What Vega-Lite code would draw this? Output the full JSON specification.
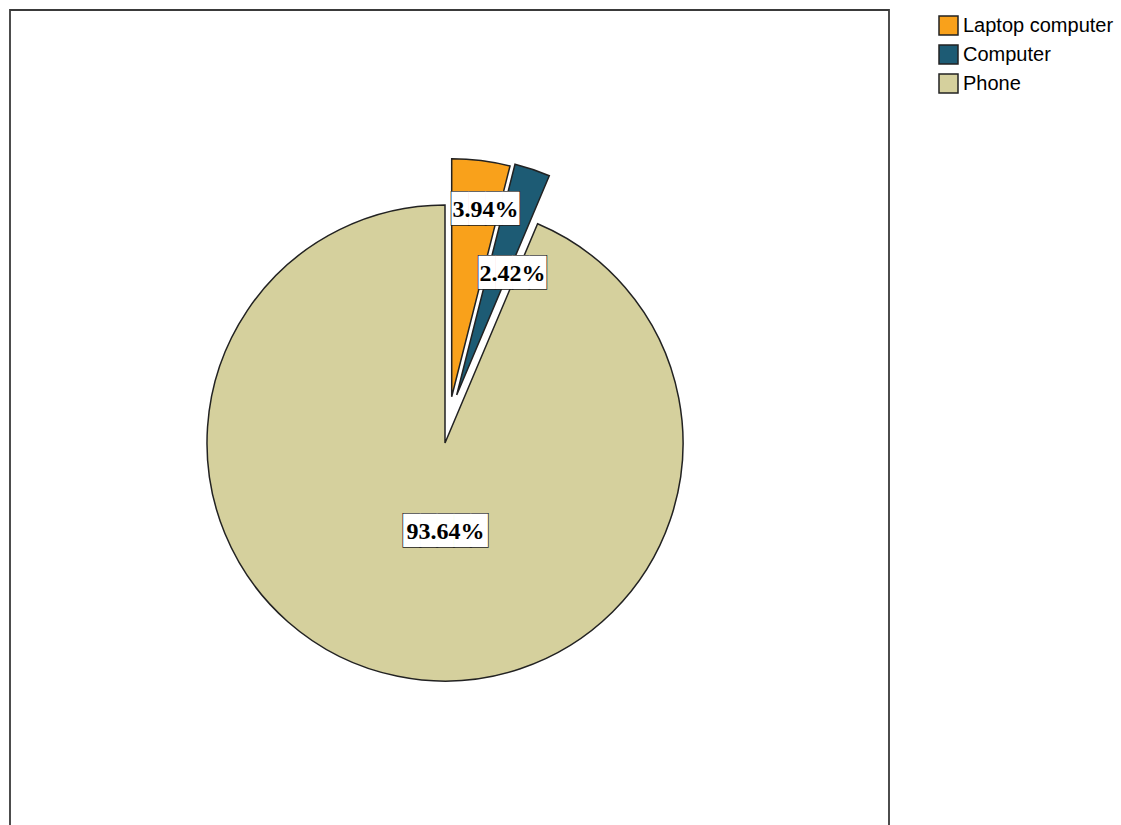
{
  "$schema": "https://vega.github.io/schema/vega-lite/v6.json",
  "width": 879,
  "height": 866,
  "autosize": {"type": "none"},
  "padding": {"left": 10, "top": 10, "right": 232, "bottom": -51},
  "background": "white",
  "config": {"view": {"stroke": null}},
  "data": {"values": [
    {"category": "Laptop computer", "value": 3.94, "label": "3.94%", "rank": 1},
    {"category": "Computer", "value": 2.42, "label": "2.42%", "rank": 2},
    {"category": "Phone", "value": 93.64, "label": "93.64%", "rank": 3}
  ]},
  "layer": [
    {
      "data": {"values": [{"frame": 1}]},
      "mark": {"type": "rect", "filled": false, "stroke": "#3a3a3a", "strokeWidth": 1.8},
      "encoding": {}
    },
    {
      "encoding": {
        "theta": {"field": "value", "type": "quantitative", "stack": true},
        "order": {"field": "rank", "type": "quantitative"}
      },
      "layer": [
        {
          "mark": {"type": "arc", "outerRadius": 238, "xOffset": -4.5, "yOffset": 0, "stroke": "#222", "strokeWidth": 1.5},
          "encoding": {
            "color": {"field": "category", "type": "nominal", "sort": ["Laptop computer", "Computer", "Phone"],
              "scale": {"domain": ["Laptop computer", "Computer", "Phone"], "range": ["#f9a11b", "#1d5b74", "#d5d09d"]},
              "legend": {"title": null, "orient": "right", "offset": 44, "padding": 5, "symbolType": "square", "symbolSize": 361, "symbolStrokeColor": "#222", "symbolStrokeWidth": 1.5, "symbolOpacity": 1, "labelFont": "Liberation Sans", "labelFontSize": 20, "labelColor": "black", "rowPadding": 4, "labelOffset": 4, "labelLimit": 300}},
            "opacity": {"condition": {"test": "datum.category === 'Phone'", "value": 1}, "value": 0}
          }
        },
        {
          "mark": {"type": "arc", "outerRadius": 238, "xOffset": 2.2, "yOffset": -46.3, "stroke": "#222", "strokeWidth": 1.5},
          "encoding": {
            "color": {"field": "category", "type": "nominal", "sort": ["Laptop computer", "Computer", "Phone"],
              "scale": {"domain": ["Laptop computer", "Computer", "Phone"], "range": ["#f9a11b", "#1d5b74", "#d5d09d"]},
              "legend": {"title": null, "orient": "right", "offset": 44, "padding": 5, "symbolType": "square", "symbolSize": 361, "symbolStrokeColor": "#222", "symbolStrokeWidth": 1.5, "symbolOpacity": 1, "labelFont": "Liberation Sans", "labelFontSize": 20, "labelColor": "black", "rowPadding": 4, "labelOffset": 4, "labelLimit": 300}},
            "opacity": {"condition": {"test": "datum.category === 'Laptop computer'", "value": 1}, "value": 0}
          }
        },
        {
          "mark": {"type": "arc", "outerRadius": 238, "xOffset": 7.2, "yOffset": -48, "stroke": "#222", "strokeWidth": 1.5},
          "encoding": {
            "color": {"field": "category", "type": "nominal", "sort": ["Laptop computer", "Computer", "Phone"],
              "scale": {"domain": ["Laptop computer", "Computer", "Phone"], "range": ["#f9a11b", "#1d5b74", "#d5d09d"]},
              "legend": {"title": null, "orient": "right", "offset": 44, "padding": 5, "symbolType": "square", "symbolSize": 361, "symbolStrokeColor": "#222", "symbolStrokeWidth": 1.5, "symbolOpacity": 1, "labelFont": "Liberation Sans", "labelFontSize": 20, "labelColor": "black", "rowPadding": 4, "labelOffset": 4, "labelLimit": 300}},
            "opacity": {"condition": {"test": "datum.category === 'Computer'", "value": 1}, "value": 0}
          }
        },
        {
          "mark": {"type": "text", "font": "DejaVu Sans Mono", "fontSize": 28, "radius": 235, "dx": 7, "align": "center", "baseline": "middle", "fill": "white", "stroke": "#222", "strokeWidth": 1.5},
          "encoding": {"text": {"condition": {"test": "datum.category === 'Laptop computer'", "value": "████"}, "value": ""}}
        },
        {
          "mark": {"type": "text", "font": "DejaVu Sans Mono", "fontSize": 28, "radius": 235, "dx": 7, "align": "center", "baseline": "middle", "fill": "white"},
          "encoding": {"text": {"condition": {"test": "datum.category === 'Laptop computer'", "value": "████"}, "value": ""}}
        },
        {
          "mark": {"type": "text", "font": "Liberation Serif", "fontWeight": "bold", "fontSize": 24, "radius": 235, "dx": 7, "align": "center", "baseline": "middle", "fill": "black"},
          "encoding": {"text": {"condition": {"test": "datum.category === 'Laptop computer'", "field": "label"}, "value": ""}}
        },
        {
          "mark": {"type": "text", "font": "DejaVu Sans Mono", "fontSize": 28, "radius": 178, "dx": 6.4, "align": "center", "baseline": "middle", "fill": "white", "stroke": "#222", "strokeWidth": 1.5},
          "encoding": {"text": {"condition": {"test": "datum.category === 'Computer'", "value": "████"}, "value": ""}}
        },
        {
          "mark": {"type": "text", "font": "DejaVu Sans Mono", "fontSize": 28, "radius": 178, "dx": 6.4, "align": "center", "baseline": "middle", "fill": "white"},
          "encoding": {"text": {"condition": {"test": "datum.category === 'Computer'", "value": "████"}, "value": ""}}
        },
        {
          "mark": {"type": "text", "font": "Liberation Serif", "fontWeight": "bold", "fontSize": 24, "radius": 178, "dx": 6.4, "align": "center", "baseline": "middle", "fill": "black"},
          "encoding": {"text": {"condition": {"test": "datum.category === 'Computer'", "field": "label"}, "value": ""}}
        },
        {
          "mark": {"type": "text", "font": "DejaVu Sans Mono", "fontSize": 28, "radius": 90.5, "dx": 14, "align": "center", "baseline": "middle", "fill": "white", "stroke": "#222", "strokeWidth": 1.5},
          "encoding": {"text": {"condition": {"test": "datum.category === 'Phone'", "value": "█████"}, "value": ""}}
        },
        {
          "mark": {"type": "text", "font": "DejaVu Sans Mono", "fontSize": 28, "radius": 90.5, "dx": 14, "align": "center", "baseline": "middle", "fill": "white"},
          "encoding": {"text": {"condition": {"test": "datum.category === 'Phone'", "value": "█████"}, "value": ""}}
        },
        {
          "mark": {"type": "text", "font": "Liberation Serif", "fontWeight": "bold", "fontSize": 24, "radius": 90.5, "dx": 14, "align": "center", "baseline": "middle", "fill": "black"},
          "encoding": {"text": {"condition": {"test": "datum.category === 'Phone'", "field": "label"}, "value": ""}}
        }
      ]
    }
  ]
}
